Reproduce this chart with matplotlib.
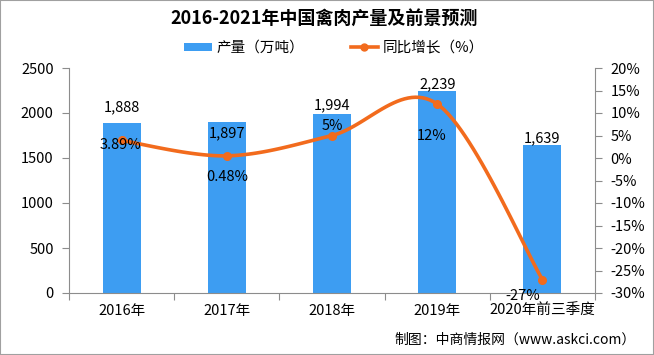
import numpy as np
import matplotlib.pyplot as plt
from matplotlib.patches import Rectangle

plt.rcParams['font.family'] = ['Noto Sans CJK SC', 'DejaVu Sans']

# 数据
categories = ['2016年', '2017年', '2018年', '2019年', '2020年前三季度']
output = [1888, 1897, 1994, 2239, 1639]          # 产量（万吨）
growth = [3.89, 0.48, 5, 12, -27]                # 同比增长（%）
output_labels = ['1,888', '1,897', '1,994', '2,239', '1,639']
growth_labels = ['3.89%', '0.48%', '5%', '12%', '-27%']

bar_color = '#3D9DF2'
line_color = '#F26B1D'
axis_color = '#8C8C8C'


def smooth(xs, ys, n=30):
    # Catmull-Rom 平滑曲线（类似 Excel 平滑线）
    xs = np.asarray(xs, float)
    ys = np.asarray(ys, float)
    px = np.concatenate([[xs[0]], xs, [xs[-1]]])
    py = np.concatenate([[ys[0]], ys, [ys[-1]]])
    ox, oy = [], []
    for i in range(1, len(px) - 2):
        t = np.linspace(0, 1, n)
        for p, out in ((px, ox), (py, oy)):
            p0, p1, p2, p3 = p[i - 1], p[i], p[i + 1], p[i + 2]
            out.extend(0.5 * (2 * p1 + (-p0 + p2) * t
                              + (2 * p0 - 5 * p1 + 4 * p2 - p3) * t ** 2
                              + (-p0 + 3 * p1 - 3 * p2 + p3) * t ** 3))
    return np.array(ox), np.array(oy)


fig = plt.figure(figsize=(6.54, 3.55), dpi=100)
ax = fig.add_axes([69 / 654, 62 / 355, 526 / 654, 225 / 355])
ax2 = ax.twinx()

x = np.arange(len(categories))
ax.bar(x, output, width=0.36, color=bar_color, zorder=2, label='产量（万吨）')
ax.set_xlim(-0.5, len(categories) - 0.5)
ax.set_ylim(0, 2500)
ax.set_yticks(range(0, 2501, 500))
ax.set_xticks(np.arange(-0.5, len(categories), 1))
ax.set_xticklabels([])
ax.set_xticks(x, minor=True)
ax.set_xticklabels(categories, minor=True)
ax.tick_params(axis='x', which='minor', length=0, pad=8, labelsize=10.5)
ax.tick_params(axis='x', which='major', length=5, color=axis_color)
ax.tick_params(axis='y', length=5, color=axis_color, labelsize=10.5, pad=6)

sx, sy = smooth(x, growth)
ax2.plot(sx, sy, color=line_color, lw=2.6, zorder=3)
ax2.plot(x, growth, 'o', color=line_color, ms=5.5, zorder=4)
ax2.plot([], [], color=line_color, lw=2.6, marker='o', ms=5, label='同比增长（%）')
ax2.set_ylim(-30, 20)
ax2.set_yticks(range(-30, 21, 5))
ax2.set_yticklabels([f'{v}%' for v in range(-30, 21, 5)])
ax2.tick_params(axis='y', length=5, color=axis_color, labelsize=10.5, pad=6)

for a in (ax, ax2):
    a.spines['top'].set_visible(False)
    for s in ('left', 'right', 'bottom'):
        a.spines[s].set_color(axis_color)
ax.spines['right'].set_visible(False)
ax2.spines['left'].set_visible(False)
ax2.spines['bottom'].set_visible(False)

# 产量标签
out_offsets = [11.5, -8, 6, 5, 5]
for i, (v, lab) in enumerate(zip(output, output_labels)):
    ax.annotate(lab, (x[i], v), xytext=(0, out_offsets[i]), textcoords='offset points',
                ha='center', va='center', fontsize=10.5, zorder=5)

# 增长率标签
g_offsets = [(-1, -3), (0, -15), (0, 7), (-4, -23), (-14, -12)]
for i, (v, lab) in enumerate(zip(growth, growth_labels)):
    ax2.annotate(lab, (x[i], v), xytext=g_offsets[i], textcoords='offset points',
                 ha='center', va='center', fontsize=10.5, zorder=5)

fig.text(324 / 654, 1 - 18 / 355, '2016-2021年中国禽肉产量及前景预测',
         ha='center', va='center', fontsize=13, fontweight='bold')

h1, l1 = ax.get_legend_handles_labels()
h2, l2 = ax2.get_legend_handles_labels()
fig.legend(h1 + h2, l1 + l2, loc='center', bbox_to_anchor=(334 / 654, 1 - 48 / 355),
           ncol=2, frameon=False, fontsize=10.5, handlelength=1.9, handleheight=0.5,
           columnspacing=3.2, handletextpad=0.3)

fig.text(636 / 654, 1 - 340 / 355, '制图：中商情报网（www.askci.com）',
         ha='right', va='center', fontsize=10)

fig.patches.append(Rectangle((0, 0), 1, 1, transform=fig.transFigure, fill=False,
                             edgecolor='#A0A0A0', lw=1.5))

fig.savefig('out.png', dpi=100)
